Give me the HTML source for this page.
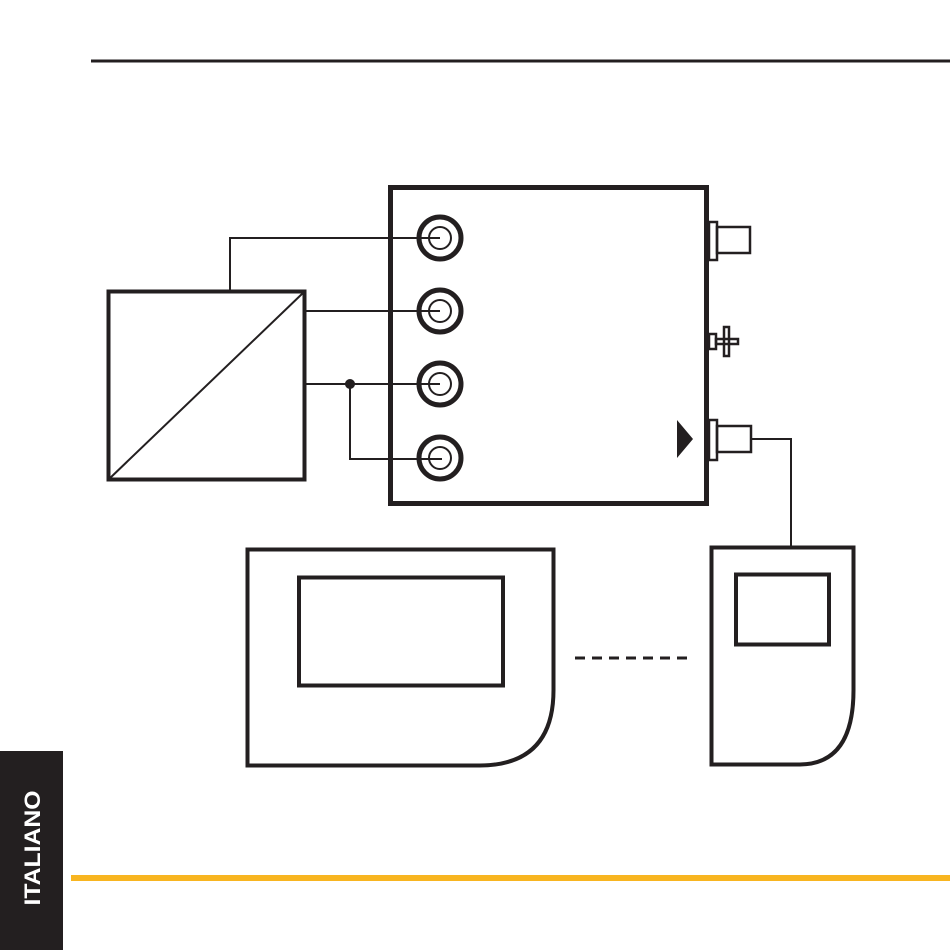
<!DOCTYPE html>
<html><head><style>body{margin:0;background:#fff}svg{display:block}</style></head><body>
<svg width="950" height="950" viewBox="0 0 950 950" xmlns="http://www.w3.org/2000/svg">
<rect x="91" y="59.5" width="859" height="3" fill="#231f20"/>
<rect x="71" y="875" width="879" height="6" fill="#f8b520"/>
<rect x="0" y="751" width="63" height="199" fill="#231f20"/>
<text transform="translate(40,848) rotate(-90)" text-anchor="middle" font-family="Liberation Sans, sans-serif" font-weight="bold" font-size="22" fill="#fff" textLength="115" lengthAdjust="spacingAndGlyphs">ITALIANO</text>
<g fill="none" stroke="#231f20">
<rect x="390.5" y="187.5" width="316" height="316" stroke-width="5"/>
<rect x="108.5" y="291.5" width="196" height="188" stroke-width="4"/>
<line x1="108" y1="480" x2="304" y2="292" stroke-width="2"/>
<polyline points="230,291 230,238 440,238" stroke-width="2"/>
<line x1="305" y1="311" x2="440" y2="311" stroke-width="2"/>
<line x1="305" y1="384" x2="440" y2="384" stroke-width="2"/>
<polyline points="350,384 350,459 442,459" stroke-width="2"/>
<g stroke-width="5"><circle cx="440" cy="238" r="21"/><circle cx="440" cy="311" r="21"/><circle cx="440" cy="384" r="21"/><circle cx="440" cy="458" r="21"/></g>
<g stroke-width="2"><circle cx="440" cy="238" r="11"/><circle cx="440" cy="311" r="11"/><circle cx="440" cy="384" r="11"/><circle cx="440" cy="458" r="11"/></g>
<g stroke-width="2.5">
<rect x="709" y="222" width="8" height="38"/><rect x="717" y="227" width="33" height="26"/>
<rect x="709" y="334" width="7" height="15"/><rect x="716" y="339" width="22" height="5"/><rect x="724" y="327" width="5" height="29"/>
<rect x="709" y="420" width="8" height="40"/><rect x="717" y="426" width="34" height="26"/>
<polyline points="751,439 791,439 791,546" stroke-width="2"/>
</g>
<path d="M247.5,549.5 H553.5 V690 Q553.5,765 480,765.5 H247.5 Z" stroke-width="4"/>
<rect x="299" y="577.5" width="204" height="108" stroke-width="4"/>
<path d="M711.5,547.5 H853.5 V690 Q853.5,764 800,764.5 H711.5 Z" stroke-width="4"/>
<rect x="736" y="574.5" width="93" height="70" stroke-width="4"/>
<line x1="575" y1="658" x2="692" y2="658" stroke-width="3" stroke-dasharray="10,7"/>
</g>
<circle cx="350" cy="384" r="5" fill="#231f20"/>
<polygon points="677,420 693,439 677,458" fill="#231f20"/>
</svg>
</body></html>
